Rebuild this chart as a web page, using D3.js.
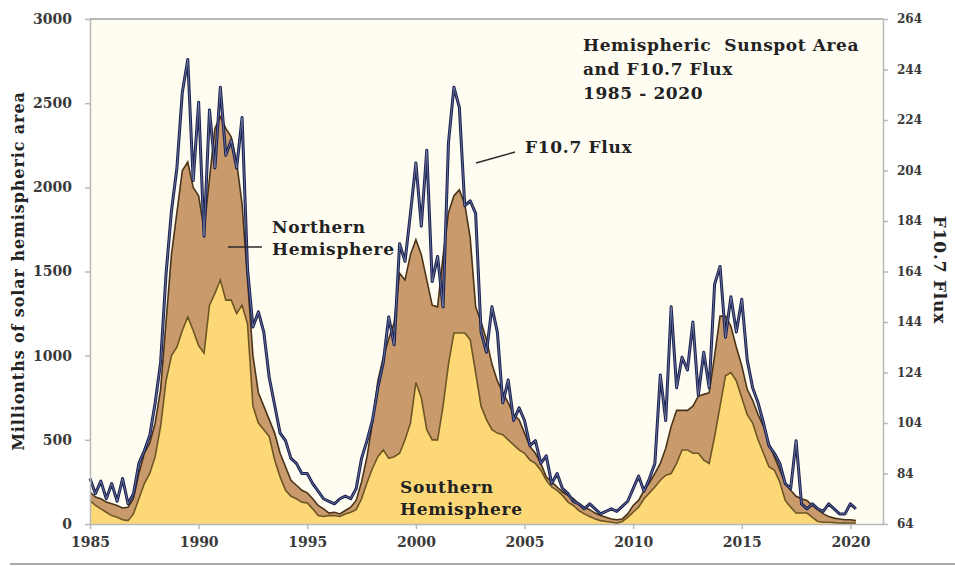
<!DOCTYPE html>
<meta charset="utf-8">
<head>
    <title>Hemispheric Sunspot Area and F10.7 Flux</title>
    <script src="https://cdn.jsdelivr.net/npm/d3@7"></script>
</head>

<style>
    body { margin: 0; background: #ffffff; }
    text { font-family: "DejaVu Serif", "Liberation Serif", serif; font-weight: bold; fill: #222222; }
    .axis path, .axis line { stroke: #b8b8b8; stroke-width: 1.5px; }
    .axis text { fill: #3a3a3a; }
</style>
<svg></svg>

<script>
    var vWidth = 955;
    var vHeight = 566;

    // quarterly samples starting 1985.0
    var vStartYear = 1985;
    var vStep = 0.25;

    // millionths of solar hemisphere, southern hemisphere
    var vSouth = [
        140, 110, 90, 70,      50, 40, 25, 20,        60, 150, 240, 300,     400, 580, 850, 1000,
        1050, 1150, 1230, 1150, 1060, 1015, 1300, 1370, 1450, 1330, 1330, 1250, 1300, 1190, 700, 600,
        560, 520, 380, 280,    200, 165, 150, 130,    125, 90, 50, 45,       50, 50, 45, 60,
        70, 85, 150, 245,      330, 400, 440, 390,    400, 420, 500, 600,    840, 750, 560, 500,
        500, 700, 950, 1135,   1135, 1135, 1095, 900, 700, 620, 560, 540,    530, 500, 470, 440,
        420, 380, 360, 320,    260, 220, 200, 170,    130, 110, 80, 60,      45, 30, 20, 15,
        10, 5, 15, 40,         70, 100, 150, 185,     220, 260, 290, 300,    360, 440, 440, 420,
        420, 380, 360, 520,    700, 880, 900, 850,    750, 650, 600, 500,    420, 340, 320, 250,
        140, 100, 65, 65,      65, 40, 15, 10,        10, 8, 5, 5,           5, 5
    ];

    // northern hemisphere, stacked on top of the southern one
    var vNorth = [
        50, 50, 60, 60,        70, 70, 70, 80,        90, 150, 180, 180,     200, 220, 350, 600,
        800, 950, 920, 850,    890, 735, 750, 980,    970, 1020, 970, 900,   600, 260, 300, 180,
        140, 100, 160, 140,    140, 95, 80, 70,       60, 60, 60, 45,        15, 20, 15, 20,
        30, 55, 100, 155,      270, 450, 550, 710,    795, 1070, 950, 1000,  850, 850, 890, 800,
        790, 890, 900, 815,    850, 765, 605, 390,    500, 475, 390, 310,    250, 220, 180, 180,
        120, 80, 60, 40,       20, 30, 20, 20,        40, 40, 40, 40,        40, 35, 30, 25,
        20, 20, 15, 20,        40, 40, 50, 60,        80, 100, 160, 280,     315, 235, 235, 280,
        340, 390, 420, 480,    535, 355, 275, 200,    190, 150, 135, 150,    160, 140, 80, 70,
        105, 100, 100, 85,     75, 70, 70, 50,        35, 27, 25, 20,        20, 15
    ];

    // F10.7 radio flux (solar flux units)
    var vFlux = [
        82, 76, 81, 74,        80, 73, 82, 72,        76, 88, 93, 99,        112, 128, 163, 188,
        205, 235, 248, 200,    231, 178, 228, 205,    237, 210, 216, 205,    225, 165, 142, 148,
        140, 122, 111, 100,    97, 90, 88, 84,        84, 80, 77, 74,        73, 72, 74, 75,
        74, 78, 90, 97,        105, 118, 128, 146,    135, 175, 168, 187,    207, 182, 212, 160,
        170, 150, 215, 237,    229, 190, 192, 187,    140, 132, 150, 140,    112, 121, 105, 110,
        105, 95, 97, 88,       91, 80, 84, 78,        76, 73, 72, 70,        72, 70, 68, 69,
        70, 69, 71, 73,        78, 83, 77, 82,        88, 123, 105, 150,     118, 130, 125, 144,
        115, 132, 118, 159,    166, 138, 154, 140,    153, 129, 118, 112,    104, 95, 92, 88,
        80, 78, 97, 72,        70, 72, 70, 69,        72, 70, 68, 68,        72, 70
    ];

    var vYearTicks = [1985, 1990, 1995, 2000, 2005, 2010, 2015, 2020];
    var vAreaTicks = [0, 500, 1000, 1500, 2000, 2500, 3000];
    var vFluxTicks = [64, 84, 104, 124, 144, 164, 184, 204, 224, 244, 264];

    // table for the stack layout
    var vRows = vSouth.map(function (s, i) {
        return { t: vStartYear + i * vStep, south: s, north: vNorth[i], flux: vFlux[i] };
    });

    var svg = d3.select('svg').attr('width', vWidth).attr('height', vHeight);

    var vLeft = 90, vRight = 883, vTop = 19, vBottom = 524;

    var x = d3.scaleLinear().domain([1985, 2021.5]).range([vLeft, vRight]);
    var yArea = d3.scaleLinear().domain([0, 3000]).range([vBottom, vTop]);
    var yFlux = d3.scaleLinear().domain([64, 264]).range([vBottom, vTop]);

    // plot background and frame
    svg.append('rect').attr('x', vLeft).attr('y', vTop)
        .attr('width', vRight - vLeft).attr('height', vBottom - vTop)
        .attr('fill', '#fffdf1');
    svg.append('line').attr('x1', vLeft).attr('x2', vRight).attr('y1', vTop).attr('y2', vTop)
        .attr('stroke', '#b8b8b8').attr('stroke-width', 2);

    // stacked hemispheres
    var vStack = d3.stack().keys(['south', 'north'])(vRows);
    var vColors = { south: '#fcd877', north: '#c99a6c' };

    var area = d3.area()
        .x(function (d) { return x(d.data.t); })
        .y0(function (d) { return yArea(d[0]); })
        .y1(function (d) { return yArea(d[1]); });
    var edge = d3.line()
        .x(function (d) { return x(d.data.t); })
        .y(function (d) { return yArea(d[1]); });

    svg.selectAll('.layer').data(vStack).enter().append('path')
        .attr('class', 'layer')
        .attr('d', area)
        .attr('fill', function (d) { return vColors[d.key]; });

    svg.selectAll('.edge').data(vStack).enter().append('path')
        .attr('class', 'edge')
        .attr('d', edge)
        .attr('fill', 'none')
        .attr('stroke', function (d) { return d.key === 'south' ? '#6e5624' : '#4a3419'; })
        .attr('stroke-width', 1.6);

    // F10.7 flux line, dark with a pale core
    var flux = d3.line()
        .x(function (d) { return x(d.t); })
        .y(function (d) { return yFlux(d.flux); });
    svg.append('path').datum(vRows).attr('d', flux)
        .attr('fill', 'none').attr('stroke', '#1a2152').attr('stroke-width', 3)
        .attr('stroke-linejoin', 'round');
    svg.append('path').datum(vRows).attr('d', flux)
        .attr('fill', 'none').attr('stroke', '#c4cce6').attr('stroke-width', 0.8)
        .attr('stroke-opacity', 0.55).attr('stroke-linejoin', 'round');

    // axes
    svg.append('g').attr('class', 'axis')
        .attr('transform', 'translate(0,' + vBottom + ')')
        .call(d3.axisBottom(x).tickValues(vYearTicks).tickFormat(d3.format('d'))
            .tickSize(5).tickSizeOuter(0).tickPadding(8))
        .selectAll('text').style('font-size', '14px');
    svg.append('g').attr('class', 'axis')
        .attr('transform', 'translate(' + vLeft + ',0)')
        .call(d3.axisLeft(yArea).tickValues(vAreaTicks).tickFormat(d3.format('d'))
            .tickSize(5).tickSizeOuter(0).tickPadding(13))
        .selectAll('text').style('font-size', '14px');
    svg.append('g').attr('class', 'axis')
        .attr('transform', 'translate(' + vRight + ',0)')
        .call(d3.axisRight(yFlux).tickValues(vFluxTicks).tickFormat(d3.format('d'))
            .tickSize(5).tickSizeOuter(0).tickPadding(9))
        .selectAll('text').style('font-size', '12px');

    // axis titles
    svg.append('text').attr('transform', 'translate(24,271) rotate(-90)')
        .attr('text-anchor', 'middle').style('font-size', '16px').style('letter-spacing', '0.9px')
        .text('Millionths of solar hemispheric area');
    svg.append('text').attr('transform', 'translate(934,270) rotate(90)')
        .attr('text-anchor', 'middle').style('font-size', '17px').style('letter-spacing', '0.8px')
        .text('F10.7 Flux');

    // title block
    var vTitle = ['Hemispheric  Sunspot Area', 'and F10.7 Flux', '1985 - 2020'];
    svg.selectAll('.title').data(vTitle).enter().append('text')
        .attr('class', 'title')
        .attr('x', 583).attr('y', function (d, i) { return 51 + i * 24; })
        .style('font-size', '17px').style('letter-spacing', '0.6px')
        .attr('xml:space', 'preserve')
        .text(function (d) { return d; });

    // annotations
    function label(lines, x0, y0) {
        lines.forEach(function (s, i) {
            svg.append('text').attr('x', x0).attr('y', y0 + i * 22)
                .style('font-size', '17px').style('letter-spacing', '0.7px').text(s);
        });
    }
    label(['F10.7 Flux'], 525, 153);
    label(['Northern', 'Hemisphere'], 272, 233);
    label(['Southern', 'Hemisphere'], 400, 493);

    svg.append('line').attr('x1', 476).attr('y1', 163).attr('x2', 515).attr('y2', 152)
        .attr('stroke', '#2a2a2a').attr('stroke-width', 1.5);
    svg.append('line').attr('x1', 228).attr('y1', 247).attr('x2', 262).attr('y2', 247)
        .attr('stroke', '#2a2a2a').attr('stroke-width', 1.5);

    // frame line at the foot of the picture
    svg.append('line').attr('x1', 10).attr('x2', vWidth).attr('y1', 564).attr('y2', 564)
        .attr('stroke', '#a8a8a8').attr('stroke-width', 2);
</script>
